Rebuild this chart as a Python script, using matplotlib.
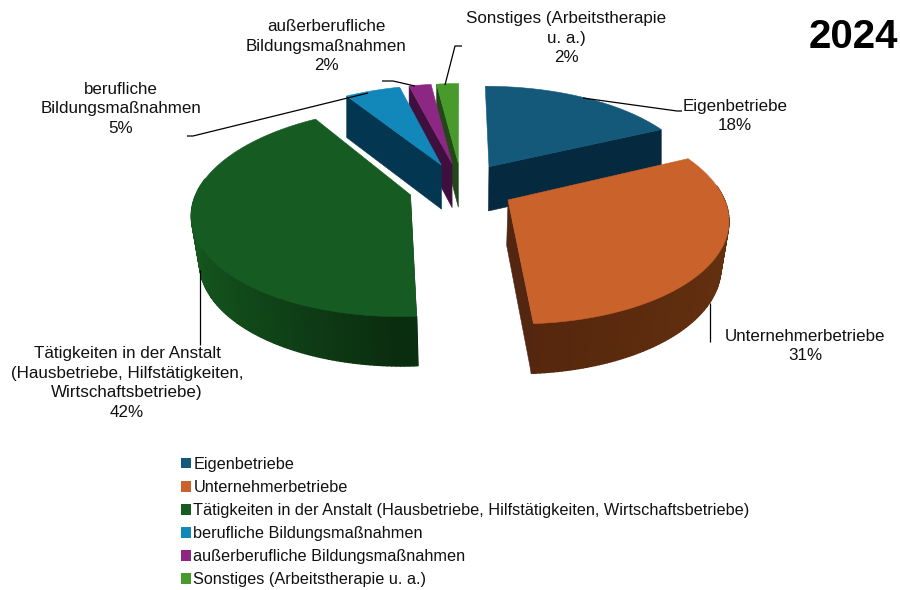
import numpy as np
import matplotlib
matplotlib.use('Agg')
import matplotlib.pyplot as plt
from matplotlib.patches import Patch, Polygon
from matplotlib.colors import to_rgb

plt.rcParams['font.family'] = ['Liberation Sans', 'DejaVu Sans']

year = '2024'
labels = ['Eigenbetriebe', 'Unternehmerbetriebe',
          'Tätigkeiten in der Anstalt (Hausbetriebe, Hilfstätigkeiten, Wirtschaftsbetriebe)',
          'berufliche Bildungsmaßnahmen', 'außerberufliche Bildungsmaßnahmen',
          'Sonstiges (Arbeitstherapie u. a.)']
values = [18, 31, 42, 5, 2, 2]
top_colors = ['#14587a', '#c9632b', '#165c22', '#1288ba', '#8d2784', '#479a2b']
face_colors = ['#05293f', '#522610', '#0f4217', '#033650', '#3f0f3d', '#22481a']
rim_start = ['#05293f', '#64310f', '#15581f', '#033650', '#3f0f3d', '#22481a']
rim_end = ['#05293f', '#55260e', '#0a2c0f', '#033650', '#3f0f3d', '#22481a']

# wrapped label text and where it sits (centre x, centre y)
label_text = ['Eigenbetriebe', 'Unternehmerbetriebe',
              'Tätigkeiten in der Anstalt\n(Hausbetriebe, Hilfstätigkeiten,\nWirtschaftsbetriebe)',
              'berufliche\nBildungsmaßnahmen', 'außerberufliche\nBildungsmaßnahmen',
              'Sonstiges (Arbeitstherapie\nu. a.)']
label_x = [735, 805, 127, 121, 326, 566]
label_y = [116, 346, 383, 109, 46, 38]
leader_x = [[583, 677, 682], [710, 710], [200, 200], [368, 193, 187], [382, 393, 415], [445, 455, 462]]
leader_y = [[98, 111, 111], [303, 342], [270, 345], [93, 136, 136], [81, 81, 86], [85, 46, 46]]

# fake 3d pie, pixel numbers of the projection
cx, cy = 461.5, 187
A, B, q = 212, 99.4, 0.161
explode = 0.25
depth = 45
order = [0, 5, 4, 3, 2, 1]  # back to front


def project(theta, r, bis):
    X = r * np.sin(theta) + explode * np.sin(bis)
    Y = r * np.cos(theta) + explode * np.cos(bis)
    w = 1 + q * Y
    sx = cx + A * X / w
    sy = cy - B * Y / w
    # bottom of the slab, pulled in towards the front only
    bx = cx + (sx - cx) * np.interp(Y, [0, 0.6], [0.97, 1.0])
    by = sy + depth / np.sqrt(w)
    return sx, sy, bx, by


fig = plt.figure(figsize=(9, 5.9), dpi=100)
ax = fig.add_axes([0, 0, 1, 1])
ax.set_xlim(0, 900)
ax.set_ylim(590, 0)
ax.axis('off')

edges = np.radians(np.cumsum([0] + values) / sum(values) * 360)

for i in order:
    t0, t1 = edges[i], edges[i + 1]
    bis = (t0 + t1) / 2
    n = max(int(np.degrees(t1 - t0)), 8)
    thetas = np.linspace(t0, t1, n)
    sx, sy, bx, by = project(thetas, 1.0, bis)
    ax0, ay0, bx0, by0 = project(np.array([0.0]), 0.0, bis)

    # the cut face turned to the viewer
    k = -1 if np.sin(bis) > 0 else 0
    ax.add_patch(Polygon([(ax0[0], ay0[0]), (sx[k], sy[k]), (bx[k], by[k]), (bx0[0], by0[0])],
                         closed=True, fc=face_colors[i], ec=face_colors[i], lw=0.4))
    # outer rim, darker towards the end
    c0, c1 = np.array(to_rgb(rim_start[i])), np.array(to_rgb(rim_end[i]))
    for j in range(n - 1):
        # only the part facing the viewer
        if np.cos(thetas[j]) > 0.15:
            continue
        f = abs(np.sin(thetas[j]))
        col = c0 * f + c1 * (1 - f)
        ax.add_patch(Polygon([(sx[j], sy[j]), (sx[j + 1], sy[j + 1]), (bx[j + 1], by[j + 1]), (bx[j], by[j])],
                             closed=True, fc=col, ec=col, lw=1.0))
    ax.add_patch(Polygon(np.column_stack([np.r_[ax0, sx], np.r_[ay0, sy]]), closed=True,
                         fc=top_colors[i], ec=top_colors[i], lw=0.4))

for i in range(len(values)):
    ax.plot(leader_x[i], leader_y[i], color='black', lw=0.9, solid_capstyle='butt')
    ax.text(label_x[i], label_y[i], '%s\n%d%%' % (label_text[i], values[i]), ha='center', va='center',
            fontsize=12.25, linespacing=1.38, color='#111111')

ax.text(898, 37, year, ha='right', va='center', fontsize=29, fontweight='bold', color='black')

handles = [Patch(fc=c, ec=c, lw=0) for c in top_colors]
leg = ax.legend(handles, labels, loc='upper left', bbox_to_anchor=(176, 452), bbox_transform=ax.transData,
                frameon=False, fontsize=11.68, handlelength=0.62, handleheight=0.62, handletextpad=0.15,
                labelspacing=0.5, borderpad=0.3, borderaxespad=0, labelcolor='#111111')

fig.savefig('out.png', dpi=100)
